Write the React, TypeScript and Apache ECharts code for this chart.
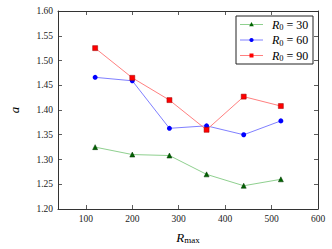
import React, { useEffect, useRef } from "react";
import * as echarts from "echarts";

const xValues = [120, 200, 280, 360, 440, 520];
const r30 = [1.325, 1.310, 1.308, 1.270, 1.247, 1.260];
const r60 = [1.466, 1.459, 1.363, 1.368, 1.350, 1.378];
const r90 = [1.525, 1.465, 1.420, 1.360, 1.427, 1.408];
const xTicks = [100, 200, 300, 400, 500, 600];
const seriesNames = ["30", "60", "90"];

const FONT = "Liberation Serif";

const markerColors = ["#006400", "#0000ff", "#ff0000"];
const lineColors = ["#8fd08f", "#8080ff", "#ff8080"];

export default function App() {
  const ref = useRef<HTMLDivElement>(null);
  useEffect(() => {
    const chart = echarts.init(ref.current!, null, { renderer: "svg" });
    const mk = (vals: number[]) => vals.map((v, i) => [xValues[i], v]);
    const axisCommon = {
      axisLine: { show: true, lineStyle: { color: "#333", width: 1 } },
      axisTick: { show: true, inside: true, length: 4, lineStyle: { color: "#333", width: 0.8 } },
      splitLine: { show: false },
    };
    const xBase = { type: "value", min: 40, max: 600, ...axisCommon };
    const yBase = { type: "value", min: 1.2, max: 1.6, interval: 0.05, ...axisCommon };
    const rich = {
      i: { fontFamily: FONT, fontStyle: "italic", fontSize: 12, color: "#000" },
      s: { fontFamily: FONT, fontSize: 8.5, color: "#000", padding: [5, 0, 0, 0] },
      n: { fontFamily: FONT, fontSize: 12, color: "#000" },
    };
    const richName = {
      i: { fontFamily: FONT, fontStyle: "italic", fontSize: 13, color: "#000" },
      s: { fontFamily: FONT, fontSize: 9, color: "#000", padding: [5, 0, 0, 0] },
    };

    // manual legend
    const lx = 236, ly = 16, lw = 77, lh = 48;
    const rowY = [24.5, 40, 55.5];
    const legendChildren: any[] = [
      { type: "rect", shape: { x: lx, y: ly, width: lw, height: lh }, style: { fill: "#fff", stroke: "#222", lineWidth: 1 } },
    ];
    seriesNames.forEach((n, k) => {
      const y = rowY[k];
      legendChildren.push({ type: "line", shape: { x1: 240, y1: y, x2: 263, y2: y }, style: { stroke: lineColors[k], lineWidth: 1 } });
      const cx = 251.5;
      if (k === 0) {
        legendChildren.push({ type: "polygon", shape: { points: [[cx, y - 2.5], [cx - 2.3, y + 1.8], [cx + 2.3, y + 1.8]] }, style: { fill: markerColors[k] } });
      } else if (k === 1) {
        legendChildren.push({ type: "circle", shape: { cx, cy: y, r: 2.1 }, style: { fill: markerColors[k] } });
      } else {
        legendChildren.push({ type: "rect", shape: { x: cx - 2, y: y - 2, width: 4, height: 4 }, style: { fill: markerColors[k] } });
      }
      legendChildren.push({
        type: "text",
        x: 272,
        y,
        style: { text: "{i|R}{s|0}{n| = " + n + "}", rich, verticalAlign: "middle", align: "left" },
      });
    });

    chart.setOption({
      animation: false,
      textStyle: { fontFamily: FONT },
      grid: { left: 44, right: 14, top: 11, bottom: 39, containLabel: false },
      xAxis: [
        {
          ...xBase,
          position: "bottom",
          axisTick: { ...axisCommon.axisTick, customValues: xTicks },
          axisLabel: { customValues: xTicks, color: "#222", fontSize: 9.5, fontFamily: FONT, margin: 5 },
          name: "{i|R}{s|max}",
          nameLocation: "middle",
          nameGap: 21,
          nameTextStyle: { rich: richName },
        },
        {
          ...xBase,
          position: "top",
          axisTick: { ...axisCommon.axisTick, customValues: xTicks },
          axisLabel: { show: false, customValues: xTicks },
        },
      ],
      yAxis: [
        {
          ...yBase,
          position: "left",
          axisLabel: {
            color: "#222",
            fontSize: 9.5,
            fontFamily: FONT,
            margin: 5,
            formatter: (v: number) => v.toFixed(2),
          },
          name: "{i|a}",
          nameLocation: "middle",
          nameGap: 37,
          nameTextStyle: { rich: richName },
        },
        { ...yBase, position: "right", axisLabel: { show: false } },
      ],
      graphic: [{ type: "group", children: legendChildren }],
      series: [
        {
          name: "R0 = 30",
          type: "line",
          data: mk(r30),
          symbol: "triangle",
          symbolSize: 5,
          itemStyle: { color: markerColors[0], borderColor: "#003300", borderWidth: 0.5 },
          lineStyle: { color: lineColors[0], width: 1 },
        },
        {
          name: "R0 = 60",
          type: "line",
          data: mk(r60),
          symbol: "circle",
          symbolSize: 5,
          itemStyle: { color: markerColors[1] },
          lineStyle: { color: lineColors[1], width: 1 },
        },
        {
          name: "R0 = 90",
          type: "line",
          data: mk(r90),
          symbol: "rect",
          symbolSize: 5,
          itemStyle: { color: markerColors[2], borderColor: "#990000", borderWidth: 0.5 },
          lineStyle: { color: lineColors[2], width: 1 },
        },
      ],
    });
    return () => chart.dispose();
  }, []);
  return <div ref={ref} style={{ width: 332, height: 249, position: "absolute", left: 0, top: 0 }} />;
}
